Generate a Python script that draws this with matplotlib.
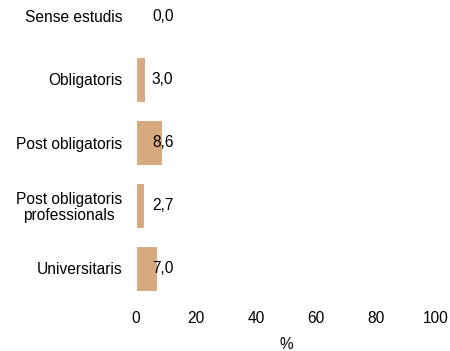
import matplotlib.pyplot as plt
import numpy as np

categories = ["Sense estudis", "Obligatoris", "Post obligatoris",
              "Post obligatoris\nprofessionals", "Universitaris"]
values = [0.0, 3.0, 8.6, 2.7, 7.0]
xticks = [0, 20, 40, 60, 80, 100]

plt.rcParams['font.family'] = ['Liberation Sans', 'DejaVu Sans']
fs = 11.2

fig = plt.figure(figsize=(4.5, 3.51), dpi=100)
ax = fig.add_axes([136 / 450, 1 - 300 / 351, 300 / 450, 315 / 351])

y = np.arange(len(categories))
ax.barh(y, values, height=0.73, color='#D6AA7E', edgecolor='white', linewidth=0.8)
for yi, v in zip(y, values):
    ax.text(5.3, yi, f"{v:.1f}".replace('.', ','), va='center', ha='left',
            fontsize=fs, color='black')

ax.set_yticks(y)
ax.set_yticklabels(categories, fontsize=fs, linespacing=1.1, multialignment='center')
ax.set_ylim(len(categories) - 0.5, -0.5)
ax.set_xlim(0, 100)
ax.set_xticks(xticks)
ax.set_xticklabels([str(t) for t in xticks], fontsize=fs)
ax.tick_params(axis='y', length=0, pad=10)
ax.tick_params(axis='x', length=0, pad=8)
ax.set_xlabel('%', fontsize=fs, labelpad=8)
for s in ax.spines.values():
    s.set_visible(False)

fig.savefig('out.png', dpi=100)
